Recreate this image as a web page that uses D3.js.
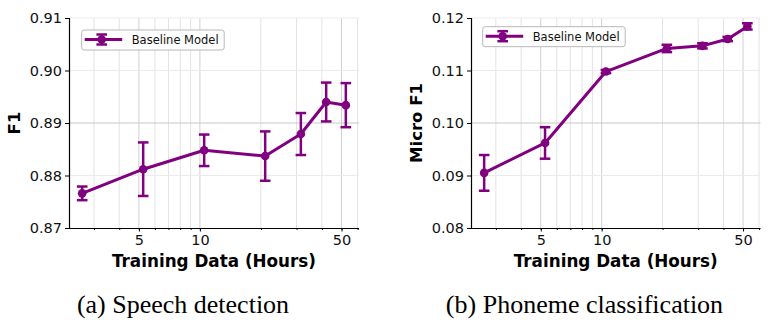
<!DOCTYPE html>
<html>
<head>
<meta charset="utf-8">
<script src="https://cdn.jsdelivr.net/npm/d3@7"></script>
<style>
  body { margin: 0; background: #fff; }
  svg { display: block; }
</style>
</head>
<body>
<svg id="chart" width="770" height="330"></svg>
<script>
// ---- data ----
const hours = [2.625, 5.25, 10.5, 21, 31.5, 42, 52.5];
const speechF1 = [0.8766, 0.8812, 0.8848, 0.8837, 0.8879, 0.8940, 0.8934];
const speechErr = [0.0013, 0.0051, 0.0030, 0.0047, 0.0040, 0.0037, 0.0042];
const phonemeF1 = [0.0905, 0.0962, 0.1098, 0.1142, 0.1147, 0.1160, 0.1184];
const phonemeErr = [0.0034, 0.0030, 0.0003, 0.0007, 0.0005, 0.0004, 0.0006];
const speechTicks = [0.87, 0.88, 0.89, 0.90, 0.91];
const phonemeTicks = [0.08, 0.09, 0.10, 0.11, 0.12];
const xTickLabels = [5, 10, 50];
const xMinorTicks = [3, 4, 5, 6, 7, 8, 9, 10, 20, 30, 40, 50, 60];
const seriesName = "Baseline Model";
const xTitle = "Training Data (Hours)";
const captions = ["(a) Speech detection", "(b) Phoneme classification"];

const COLOR = "#800080";
const svg = d3.select("#chart");

function panel(opts) {
  const { x0, x1, y0, y1, values, errs, yTicks, yLabel, yLabelX, legend, caption, captionX, yFmt } = opts;
  const lmin = Math.log10(d3.min(hours)), lmax = Math.log10(d3.max(hours));
  const m = (lmax - lmin) * 0.05;
  const x = d3.scaleLog().domain([Math.pow(10, lmin - m), Math.pow(10, lmax + m)]).range([x0, x1]);
  const y = d3.scaleLinear().domain([d3.min(yTicks), d3.max(yTicks)]).range([y1, y0]);
  const g = svg.append("g");

  // vertical grid
  g.selectAll(".vg").data(xMinorTicks.filter(t => x(t) <= x1 && x(t) >= x0)).enter().append("line")
    .attr("x1", d => x(d)).attr("x2", d => x(d)).attr("y1", y0).attr("y2", y1)
    .attr("stroke", d => (d === 10 || d === 5 || d === 50) ? "#d0d0d0" : "#e3e3e3").attr("stroke-width", 1);
  // horizontal grid
  g.selectAll(".hg").data(yTicks.slice(1)).enter().append("line")
    .attr("x1", x0).attr("x2", x1).attr("y1", d => y(d)).attr("y2", d => y(d))
    .attr("stroke", (d, i) => i === 1 ? "#c8c8c8" : "#ebebeb").attr("stroke-width", 1);

  // axes
  const yAxis = d3.axisLeft(y).tickValues(yTicks).tickFormat(yFmt).tickSize(4).tickPadding(3);
  const ya = g.append("g").attr("transform", `translate(${x0},0)`).call(yAxis);
  ya.select(".domain").attr("stroke", "#000").attr("stroke-width", 1.2);
  ya.selectAll("text").attr("font-family", "DejaVu Sans").attr("font-size", 14.5).attr("fill", "#111");

  const xMinor = d3.axisBottom(x).tickValues(xMinorTicks.filter(t => x(t) <= x1 + 0.5)).tickFormat("").tickSize(2);
  const xm = g.append("g").attr("transform", `translate(0,${y1})`).call(xMinor);
  xm.select(".domain").remove();
  const xAxis = d3.axisBottom(x).tickValues(xTickLabels).tickFormat(d3.format("d")).tickSize(3.5).tickPadding(3);
  const xa = g.append("g").attr("transform", `translate(0,${y1})`).call(xAxis);
  xa.select(".domain").attr("stroke", "#000").attr("stroke-width", 1.2).attr("d", `M${x0},0.5H${x1}`);
  xa.selectAll("text").attr("font-family", "DejaVu Sans").attr("font-size", 14.5).attr("fill", "#111");

  // axis titles
  g.append("text").attr("x", (x0 + x1) / 2).attr("y", 266.5).attr("text-anchor", "middle")
    .attr("font-family", "DejaVu Sans").attr("font-weight", "bold").attr("font-size", 16.8).text(xTitle);
  g.append("text").attr("transform", `translate(${yLabelX},${(y0 + y1) / 2}) rotate(-90)`)
    .attr("text-anchor", "middle").attr("dominant-baseline", "central")
    .attr("font-family", "DejaVu Sans").attr("font-weight", "bold").attr("font-size", 16.5).text(yLabel);

  // line
  const pts = hours.map((h, i) => ({ h, v: values[i], e: errs[i] }));
  g.append("path").datum(pts)
    .attr("d", d3.line().x(d => x(d.h)).y(d => y(d.v)))
    .attr("fill", "none").attr("stroke", COLOR).attr("stroke-width", 3).attr("stroke-linejoin", "round");
  // error bars
  const eb = g.selectAll(".eb").data(pts).enter().append("g");
  eb.append("line").attr("x1", d => x(d.h)).attr("x2", d => x(d.h))
    .attr("y1", d => y(d.v - d.e)).attr("y2", d => y(d.v + d.e))
    .attr("stroke", COLOR).attr("stroke-width", 2.5);
  eb.append("line").attr("x1", d => x(d.h) - 5.3).attr("x2", d => x(d.h) + 5.3)
    .attr("y1", d => y(d.v - d.e)).attr("y2", d => y(d.v - d.e))
    .attr("stroke", COLOR).attr("stroke-width", 2.5);
  eb.append("line").attr("x1", d => x(d.h) - 5.3).attr("x2", d => x(d.h) + 5.3)
    .attr("y1", d => y(d.v + d.e)).attr("y2", d => y(d.v + d.e))
    .attr("stroke", COLOR).attr("stroke-width", 2.5);
  eb.append("circle").attr("cx", d => x(d.h)).attr("cy", d => y(d.v)).attr("r", 4.3).attr("fill", COLOR);

  // legend
  const [lx, ly] = legend;
  const lg = g.append("g").attr("transform", `translate(${lx},${ly})`);
  lg.append("rect").attr("x", 0).attr("y", 0).attr("width", 142.5).attr("height", 20).attr("rx", 2.5)
    .attr("fill", "#fff").attr("fill-opacity", 0.9).attr("stroke", "#b8b8b8").attr("stroke-width", 1);
  lg.append("line").attr("x1", 3).attr("x2", 40.5).attr("y1", 9.5).attr("y2", 9.5).attr("stroke", COLOR).attr("stroke-width", 3);
  lg.append("line").attr("x1", 20).attr("x2", 20).attr("y1", 4.5).attr("y2", 14.5).attr("stroke", COLOR).attr("stroke-width", 2.5);
  lg.append("line").attr("x1", 14.7).attr("x2", 25.3).attr("y1", 4.5).attr("y2", 4.5).attr("stroke", COLOR).attr("stroke-width", 2.5);
  lg.append("line").attr("x1", 14.7).attr("x2", 25.3).attr("y1", 14.5).attr("y2", 14.5).attr("stroke", COLOR).attr("stroke-width", 2.5);
  lg.append("circle").attr("cx", 20).attr("cy", 9.5).attr("r", 4.3).attr("fill", COLOR);
  lg.append("text").attr("x", 50).attr("y", 10).attr("dominant-baseline", "central")
    .attr("font-family", "DejaVu Sans").attr("font-size", 11.5).attr("fill", "#111").text(seriesName);

  // caption
  svg.append("text").attr("x", captionX).attr("y", 313).attr("text-anchor", "middle")
    .attr("font-family", "Liberation Serif").attr("font-size", 26).attr("fill", "#000").text(caption);
}

panel({ x0: 69, x1: 359, y0: 18, y1: 228, values: speechF1, errs: speechErr, yTicks: speechTicks,
  yLabel: "F1", yLabelX: 14.5, legend: [81.7, 30], caption: captions[0], captionX: 183, yFmt: d3.format(".2f") });
panel({ x0: 471, x1: 760.5, y0: 18, y1: 228, values: phonemeF1, errs: phonemeErr, yTicks: phonemeTicks,
  yLabel: "Micro F1", yLabelX: 416.5, legend: [482.7, 26.7], caption: captions[1], captionX: 584.5, yFmt: d3.format(".2f") });
</script>
</body>
</html>
